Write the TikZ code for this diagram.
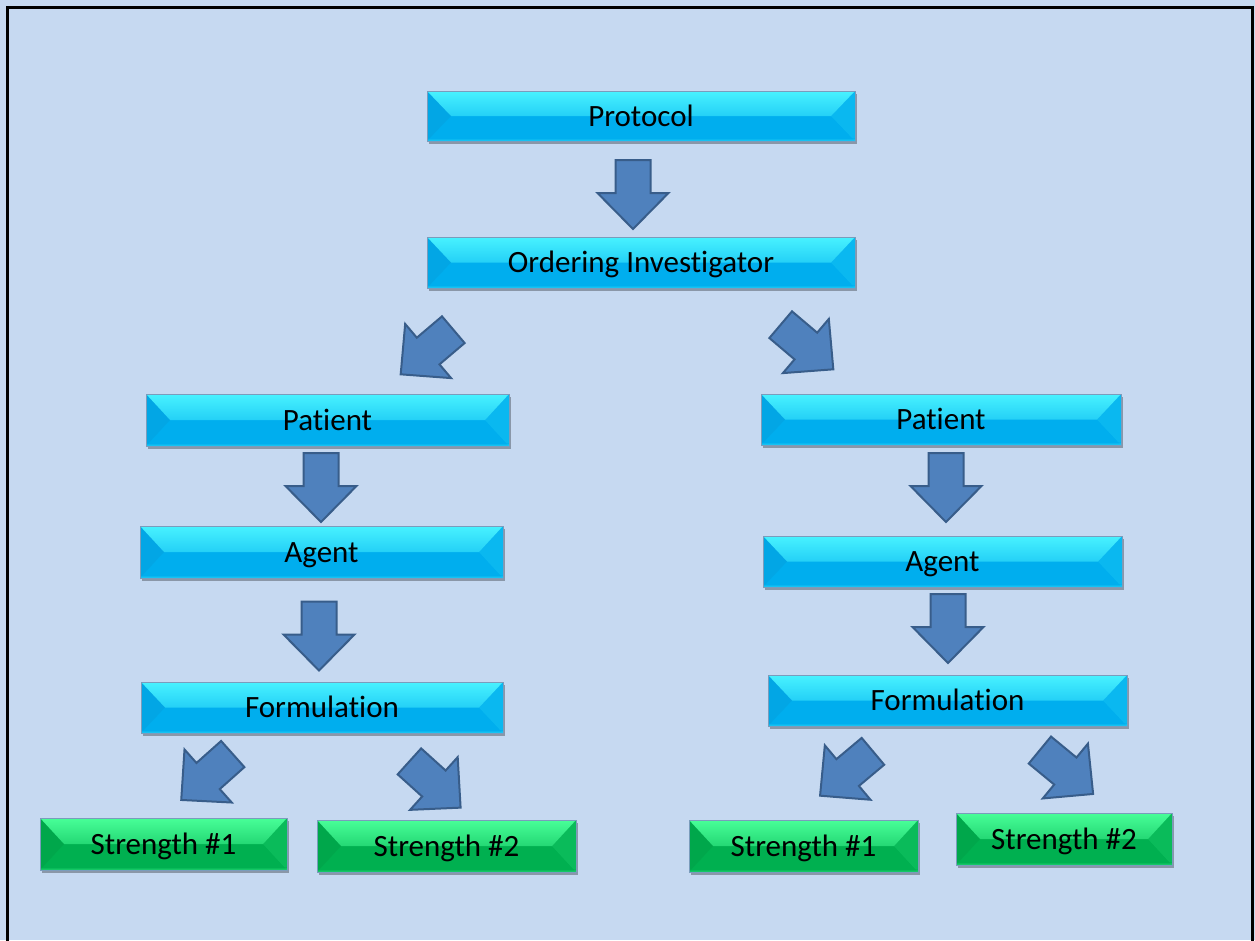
\documentclass[tikz,border=0pt]{standalone}
\usepackage{fontspec}
\setmainfont{Carlito}[Ligatures=NoCommon]
\usetikzlibrary{shadows}
\definecolor{bg}{HTML}{C6D9F1}
\definecolor{cyanmain}{HTML}{00AEEE}
\definecolor{cyanlight}{HTML}{48F2FF}
\definecolor{cyandark}{HTML}{0A8CC8}
\definecolor{greenmain}{HTML}{00B050}
\definecolor{greenlight}{HTML}{48FF98}
\definecolor{greendark}{HTML}{008A3C}
\definecolor{boxline}{HTML}{7A9CBC}
\definecolor{arrowfill}{HTML}{4F81BD}
\definecolor{arrowline}{HTML}{385D8A}
\tikzset{
  bevel/.style n args={3}{
    fill=#1, draw=boxline, line width=0.7pt,
    inner sep=0pt, outer sep=0pt,
    text height=20pt, text depth=0pt,
    font=\fontsize{31}{37}\selectfont,
    drop shadow={shadow xshift=1.5pt, shadow yshift=-3pt, fill=black, opacity=0.3},
    path picture={
      \shade[top color=#2, bottom color=#1]
        (path picture bounding box.north west) -- (path picture bounding box.north east)
        -- ([xshift=-24pt]path picture bounding box.east) -- ([xshift=24pt]path picture bounding box.west) -- cycle;
      \fill[#3, opacity=0.22]
        (path picture bounding box.north west) -- ([xshift=24pt]path picture bounding box.west)
        -- (path picture bounding box.south west) -- cycle;
      \fill[#2, opacity=0.15]
        (path picture bounding box.north east) -- ([xshift=-24pt]path picture bounding box.east)
        -- (path picture bounding box.south east) -- cycle;
      \shade[top color=#1, bottom color=#2, opacity=0.45]
        ([yshift=3pt]path picture bounding box.south west) rectangle (path picture bounding box.south east);
    }
  },
  cbox/.style={bevel={cyanmain}{cyanlight}{cyandark}},
  gbox/.style={bevel={greenmain}{greenlight}{greendark}},
  barrow/.pic={
    \draw[fill=arrowfill, draw=arrowline, line width=2pt, line join=miter]
      (-17.5,-34.5) -- (17.5,-34.5) -- (17.5,-1.5) -- (35.5,-1.5) -- (0,34.5)
      -- (-35.5,-1.5) -- (-17.5,-1.5) -- cycle;
  }
}
\begin{document}
\begin{tikzpicture}[x=1pt,y=-1pt]
\useasboundingbox (0,0) rectangle (1255,940);
\fill[bg] (0,0) rectangle (1255,940);
\begin{scope}
  \clip (0,0) rectangle (1255,940);
  \draw[line width=3pt] (7.5,7.5) rectangle (1252,980);
\end{scope}

% boxes
\node[cbox, minimum width=428pt, minimum height=50pt] (protocol) at (641,116) {Protocol};
\node[cbox, minimum width=428pt, minimum height=51pt] (ordering) at (641,262.5) {Ordering Investigator};
\node[cbox, minimum width=363pt, minimum height=52pt] (patientL) at (327.5,420) {Patient};
\node[cbox, minimum width=360pt, minimum height=51pt] (patientR) at (941,419.5) {Patient};
\node[cbox, minimum width=363pt, minimum height=52pt] (agentL) at (321.5,552) {Agent};
\node[cbox, minimum width=359pt, minimum height=51pt] (agentR) at (942.5,561.5) {Agent};
\node[cbox, minimum width=362pt, minimum height=51pt] (formL) at (322,707.5) {Formulation};
\node[cbox, minimum width=359pt, minimum height=51pt] (formR) at (947.5,700.5) {Formulation};
\node[gbox, minimum width=247pt, minimum height=52pt] (s1L) at (163.5,844) {Strength \#1};
\node[gbox, minimum width=259pt, minimum height=52pt] (s2L) at (446.5,846) {Strength \#2};
\node[gbox, minimum width=229pt, minimum height=52pt] (s1R) at (803.5,846) {Strength \#1};
\node[gbox, minimum width=216pt, minimum height=52pt] (s2R) at (1064,839) {Strength \#2};

% block arrows
\pic at (633,194.5) {barrow};
\pic[rotate=-49.7] at (427,352) {barrow};
\pic[rotate=49.7] at (807,347) {barrow};
\pic at (321,487.5) {barrow};
\pic at (319,636) {barrow};
\pic at (946,487.5) {barrow};
\pic at (948,628.5) {barrow};
\pic[rotate=-48.3] at (207,777) {barrow};
\pic[rotate=47.9] at (435,784.5) {barrow};
\pic[rotate=-50] at (846.5,773.5) {barrow};
\pic[rotate=50.5] at (1066.5,772) {barrow};
\end{tikzpicture}
\end{document}
